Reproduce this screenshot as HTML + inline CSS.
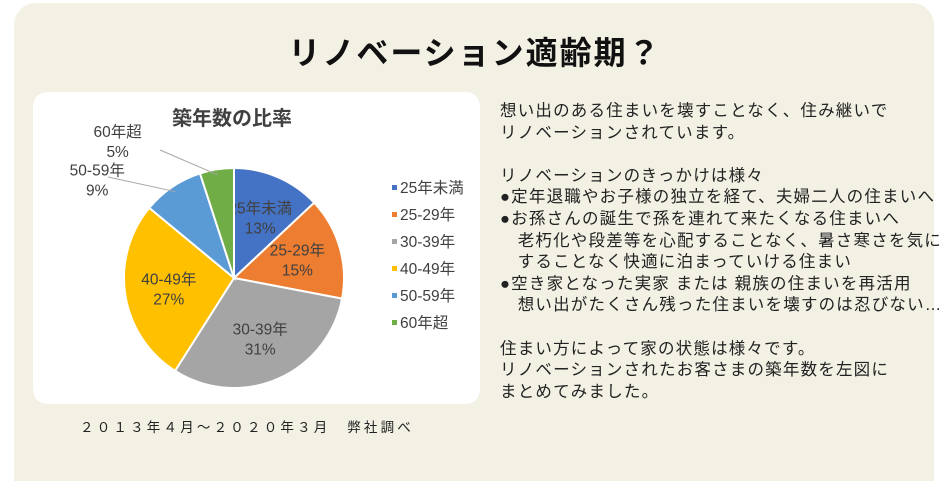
<!DOCTYPE html>
<html><head><meta charset="utf-8"><style>
body{margin:0;width:950px;height:481px;background:#fff;position:relative;overflow:hidden;font-family:"Liberation Sans","Noto Sans CJK JP",sans-serif;}
#panel{position:absolute;left:14px;top:3px;width:920px;height:478px;background:#f3f0e4;border-radius:22px 22px 0 0;}
#title{position:absolute;left:0;width:950px;top:28px;text-align:center;font-size:32px;font-weight:bold;letter-spacing:2px;color:#111;}
#chartbox{position:absolute;left:33px;top:92px;width:447px;height:312px;background:#fff;border-radius:14px;}
#body{position:absolute;left:500px;top:101px;font-size:16.5px;line-height:21.6px;letter-spacing:1.2px;color:#222;white-space:pre;}
#foot{position:absolute;left:80px;top:416px;font-size:13.5px;letter-spacing:3.2px;color:#222;}
</style></head><body>
<div id="panel"></div>
<div id="title">リノベーション適齢期？</div>
<div id="chartbox"></div>
<svg id="chart" width="950" height="481" style="position:absolute;left:0;top:0" font-family="Liberation Sans, Noto Sans CJK JP, sans-serif"></svg>
<div id="body">想い出のある住まいを壊すことなく、住み継いで
リノベーションされています。

リノベーションのきっかけは様々
●定年退職やお子様の独立を経て、夫婦二人の住まいへ
●お孫さんの誕生で孫を連れて来たくなる住まいへ
　老朽化や段差等を心配することなく、暑さ寒さを気に
　することなく快適に泊まっていける住まい
●空き家となった実家 または 親族の住まいを再活用
　想い出がたくさん残った住まいを壊すのは忍びない…

住まい方によって家の状態は様々です。
リノベーションされたお客さまの築年数を左図に
まとめてみました。</div>
<div id="foot">２０１３年４月～２０２０年３月　弊社調べ</div>
<script>
const categories=["25年未満","25-29年","30-39年","40-49年","50-59年","60年超"];
const values=[13,15,31,27,9,5];
const pctLabels=["13%","15%","31%","27%","9%","5%"];
const colors=["#4472c4","#ed7d31","#a5a5a5","#ffc000","#5b9bd5","#70ad47"];
const NS="http://www.w3.org/2000/svg";
const svg=document.getElementById('chart');
const cx=234,cy=278,R=110;
const total=values.reduce((a,b)=>a+b,0);
function ang(v){return v/total*2*Math.PI;}
function pt(a,r){return [cx+r*Math.sin(a),cy-r*Math.cos(a)];}
function mk(tag,attrs){const e=document.createElementNS(NS,tag);for(const k in attrs)e.setAttribute(k,attrs[k]);svg.appendChild(e);return e;}
const t=mk('text',{x:232,y:125,'text-anchor':'middle','font-size':20,'font-weight':'bold',fill:'#404040'});


t.textContent='築年数の比率';
let acc=0;
const outside={4:{dx:-78,dy:-12,lx:168,ly:187,ex:108,ey:177},5:{dx:-100,dy:-34,lx:210,ly:172,ex:160,ey:150}};
values.forEach((v,i)=>{
  const a0=ang(acc),a1=ang(acc+v);acc+=v;
  const p0=pt(a0,R),p1=pt(a1,R);
  const large=(a1-a0)>Math.PI?1:0;
  const p=mk('path',{d:`M${cx},${cy}L${p0[0]},${p0[1]}A${R},${R} 0 ${large} 1 ${p1[0]},${p1[1]}Z`,fill:colors[i],stroke:'#fff','stroke-width':2});
  
  
  const am=(a0+a1)/2;
  let lx,ly;
  if(outside[i]){
    const m=pt(am,R*0.95);
    const o=outside[i];
    lx=m[0]+o.dx;ly=m[1]+o.dy;
    const l=mk('polyline',{points:`${o.ex},${o.ey} ${m[0]},${m[1]}`,fill:'none',stroke:'#a6a6a6','stroke-width':1});
    
    
  } else {
    const m=pt(am,R*0.6);lx=m[0];ly=m[1];
  }
  [categories[i],pctLabels[i]].forEach((s,k)=>{
    const tx=mk('text',{x:lx,y:ly-4+k*20,'text-anchor':'middle','font-size':15.5,fill:'#404040'});
    
    
    tx.textContent=s;
  });
  const ly2=190+i*27;
  const r=mk('rect',{x:392,y:ly2-5,width:5,height:5,fill:colors[i]});
  
  
  const lt=mk('text',{x:400,y:ly2+3,'font-size':15.5,fill:'#404040'});
  
  
  lt.textContent=categories[i];
});
</script>
</body></html>
